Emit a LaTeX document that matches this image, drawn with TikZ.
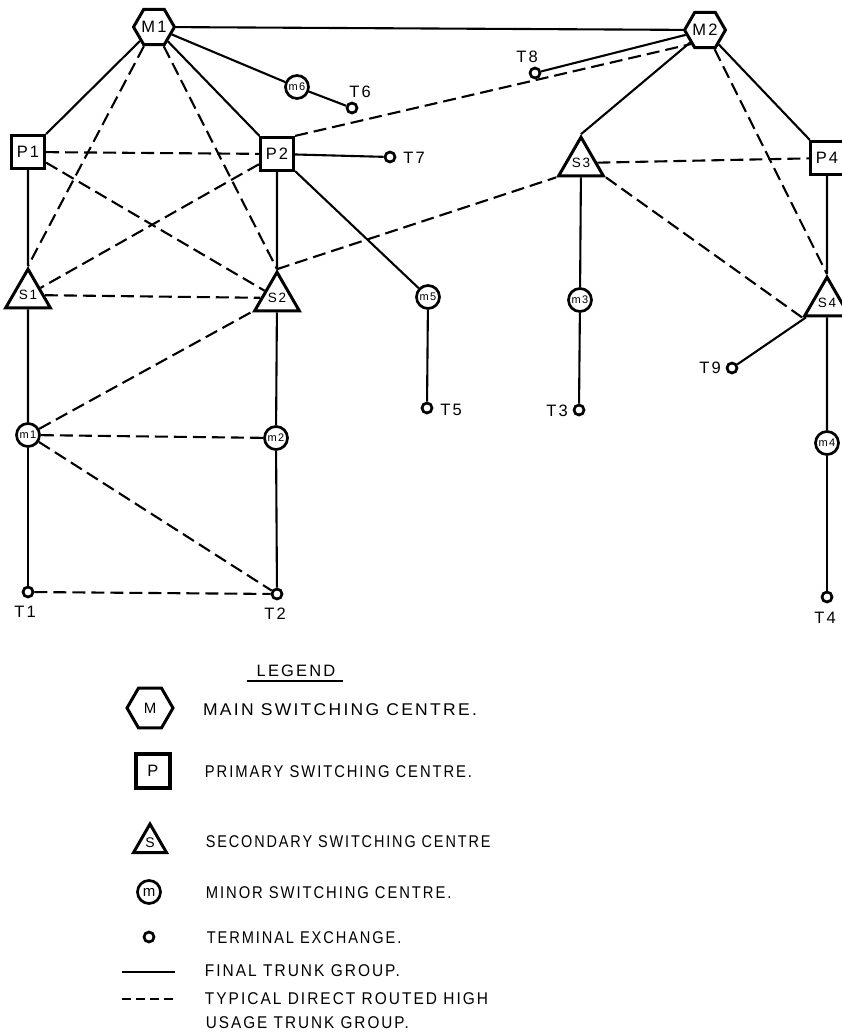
\documentclass[tikz,border=0pt]{standalone}
\usepackage{fontspec}
\newfontfamily\lettering{Liberation Sans}[LetterSpace=13]
\usetikzlibrary{shapes.geometric}
\begin{document}
\begin{tikzpicture}[x=1pt,y=-1pt,line width=2.1pt,
  font=\lettering\fontsize{16.5}{18}\selectfont,
  trunk/.style={line width=2.1pt},
  highusage/.style={line width=2.1pt,dash pattern=on 13pt off 6pt},
  main/.style={draw,fill=white,regular polygon,regular polygon sides=6,minimum size=40pt,inner sep=0pt,line width=3pt},
  primary/.style={draw,fill=white,rectangle,minimum size=33pt,inner sep=0pt,line width=3.2pt},
  secondary/.style={draw,fill=white,regular polygon,regular polygon sides=3,minimum size=40pt,inner sep=0pt,line width=3pt,font=\lettering\fontsize{13.5}{13.5}\selectfont},
  minor/.style={draw,fill=white,circle,minimum size=23pt,inner sep=0pt,line width=2.7pt,font=\lettering\fontsize{11}{11}\selectfont},
  terminal/.style={draw,fill=white,circle,minimum size=10pt,inner sep=0pt,line width=2.7pt},
  tag/.style={inner sep=0pt},
  keytext/.style={anchor=west,inner sep=0pt,font=\lettering\fontsize{17}{18}\selectfont}]
  \useasboundingbox (0,0) rectangle (841,1035);

  \node[main] (M1) at (154,27) {M1};
  \node[main] (M2) at (705,30) {M2};
  \node[primary] (P1) at (28,152) {P1};
  \node[primary] (P2) at (277,154) {P2};
  \node[primary] (P4) at (827,158) {P4};
  \node[secondary] (S1) at (28,295) {S1};
  \node[secondary] (S2) at (277,298) {S2};
  \node[secondary] (S3) at (581,163) {S3};
  \node[secondary] (S4) at (827,303) {S4};
  \node[minor] (m1) at (28,435) {m1};
  \node[minor] (m2) at (276,438) {m2};
  \node[minor] (m3) at (580,300) {m3};
  \node[minor] (m4) at (827,443) {m4};
  \node[minor] (m5) at (428,297) {m5};
  \node[minor] (m6) at (297,87) {m6};
  \node[terminal] (T1) at (28,592) {};
  \node[terminal] (T2) at (277,594) {};
  \node[terminal] (T3) at (579,410) {};
  \node[terminal] (T4) at (827,597) {};
  \node[terminal] (T5) at (427,408) {};
  \node[terminal] (T6) at (352,108) {};
  \node[terminal] (T7) at (390,157) {};
  \node[terminal] (T8) at (535,73) {};
  \node[terminal] (T9) at (732,368) {};
  \node[tag] (tT1) at (25,612) {T1};
  \node[tag] (tT2) at (275,614) {T2};
  \node[tag] (tT3) at (557,411) {T3};
  \node[tag] (tT4) at (825,618) {T4};
  \node[tag] (tT5) at (451,410) {T5};
  \node[tag] (tT6) at (360,92) {T6};
  \node[tag] (tT7) at (414,158) {T7};
  \node[tag] (tT8) at (527,57) {T8};
  \node[tag] (tT9) at (710,368) {T9};

  \foreach \a/\b in {M1/M2,M1/P1,M1/P2,M1/m6,m6/T6,P1/S1,P2/S2,P2/T7,P2/m5,m5/T5,
      S1/m1,m1/T1,S2/m2,m2/T2,M2/T8,M2/P4,S3/m3,m3/T3,P4/S4,S4/T9,S4/m4,m4/T4}
    \draw[trunk] (\a) -- (\b);
  \draw[trunk] (M2) -- (S3.corner 1);
  \foreach \a/\b in {P1/P2,P1/S2,P2/S1,S1/S2,S3/P4,m1/S2,m1/m2,m1/T2,T1/T2}
    \draw[highusage] (\a) -- (\b);
  \draw[highusage] (M1) -- (S1.corner 1);
  \draw[highusage] (M1) -- (S2.corner 1);
  \draw[highusage] (P2.north east) -- (M2.south west);
  \draw[highusage] (S2.corner 1) -- (S3.corner 2);
  \draw[highusage] (S3.corner 3) -- (S4.corner 2);
  \draw[highusage] (M2) -- (S4.corner 1);

  \node[anchor=base,inner sep=0pt] (legend) at (296,676) {LEGEND};
  \draw[line width=1.5pt] ([xshift=-9pt,yshift=-5pt]legend.base west) -- ([xshift=7pt,yshift=-5pt]legend.base east);
  \node[main,minimum size=46pt,font=\lettering\fontsize{15}{15}\selectfont] (keyM) at (150,708) {M};
  \node[primary,minimum size=34pt] (keyP) at (153,771) {P};
  \node[secondary,minimum size=38pt,font=\lettering\fontsize{14}{14}\selectfont] (keyS) at (150,843) {S};
  \node[minor,font=\lettering\fontsize{15}{15}\selectfont] (keym) at (149,892) {m};
  \node[terminal] (keyT) at (149,937) {};
  \coordinate (finalA) at (122,972);
  \coordinate (finalB) at (175,972);
  \draw[trunk] (finalA) -- (finalB);
  \coordinate (directA) at (122,999);
  \coordinate (directB) at (175,999);
  \draw[highusage,dash pattern=on 9pt off 5pt] (directA) -- (directB);
  \node[keytext,xscale=1.03] (keyMt) at (202,710) {MAIN SWITCHING CENTRE.};
  \node[keytext,xscale=0.87] (keyPt) at (204,772) {PRIMARY SWITCHING CENTRE.};
  \node[keytext,xscale=0.85] (keySt) at (205,842) {SECONDARY SWITCHING CENTRE};
  \node[keytext,xscale=0.87] (keymt) at (205,893) {MINOR SWITCHING CENTRE.};
  \node[keytext,xscale=0.86] (keyTt) at (206,938) {TERMINAL EXCHANGE.};
  \node[keytext,xscale=0.91] (finalt) at (204,971) {FINAL TRUNK GROUP.};
  \node[keytext,xscale=0.91] (directt) at (204,999) {TYPICAL DIRECT ROUTED HIGH};
  \node[keytext,xscale=0.9] (usaget) at (205,1023) {USAGE TRUNK GROUP.};
\end{tikzpicture}
\end{document}
